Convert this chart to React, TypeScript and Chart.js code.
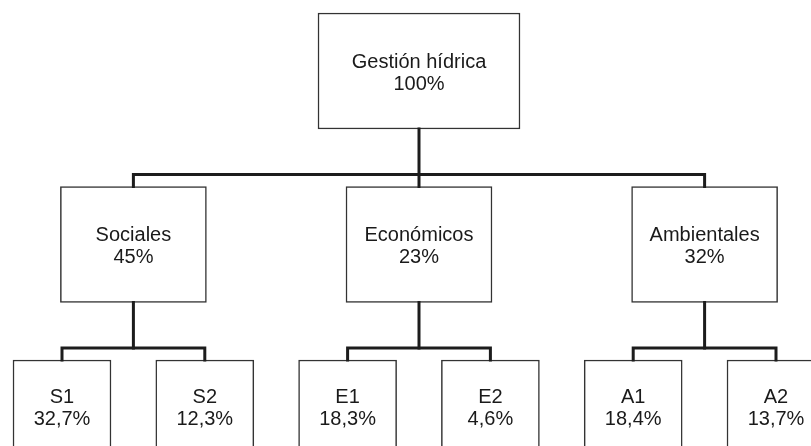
import { useEffect, useRef } from 'react';
import { Chart, registerables } from 'chart.js';

Chart.register(...registerables);

// ---- data ----
const nodeLabels = ['Gestión hídrica', 'Sociales', 'Económicos', 'Ambientales', 'S1', 'S2', 'E1', 'E2', 'A1', 'A2'];
const nodeValues = [100, 45, 23, 32, 32.7, 12.3, 18.3, 4.6, 18.4, 13.7];
const nodeParents = [-1, 0, 0, 0, 1, 1, 2, 2, 3, 3];

// ---- layout / style constants (pixels) ----
const W = 811;
const H = 446;
const LEVEL_TOP_PX = 13;
const LEVEL_STEP_PX = 173.5;
const LEAF_FIRST_PX = 62;
const LEAF_LAST_PX = 776;
const BOX_W = [202, 146, 98];
const BOX_H_PX = [116, 116, 93];
const GAP_PX = 12;
const LINE_COLOR = '#1c1c1c';
const BOX_BORDER = '#333333';
const FONT = '20px "Liberation Sans", Arial, sans-serif';

function fmt(v: number) {
  return String(v).replace('.', ',') + '%';
}

function layout() {
  const n = nodeLabels.length;
  const children: number[][] = Array.from({ length: n }, () => []);
  let root = 0;
  nodeParents.forEach((p, i) => {
    if (p >= 0) children[p].push(i);
    else root = i;
  });
  const depth = new Array(n).fill(0);
  const xs = new Array(n).fill(0);
  let leaf = 0;
  const visit = (i: number, d: number) => {
    depth[i] = d;
    if (children[i].length === 0) {
      xs[i] = leaf++;
    } else {
      children[i].forEach((c) => visit(c, d + 1));
      xs[i] = children[i].reduce((s, c) => s + xs[c], 0) / children[i].length;
    }
  };
  visit(root, 0);
  return { children, depth, xs, leafCount: leaf };
}

const textPlugin = {
  id: 'nodeText',
  afterDatasetsDraw(chart: any) {
    const ctx = chart.ctx;
    ctx.save();
    ctx.font = FONT;
    ctx.fillStyle = '#1a1a1a';
    ctx.textAlign = 'center';
    ctx.textBaseline = 'alphabetic';
    chart.data.datasets.forEach((ds: any, di: number) => {
      if (!ds.isBox) return;
      const meta = chart.getDatasetMeta(di);
      meta.data.forEach((el: any, j: number) => {
        const node = ds.data[j].node;
        const cy = (el.y + el.base) / 2;
        ctx.fillText(nodeLabels[node], el.x, cy - 3.5);
        ctx.fillText(fmt(nodeValues[node]), el.x, cy + 18.5);
      });
    });
    ctx.restore();
  },
};

export default function App() {
  const ref = useRef<HTMLCanvasElement | null>(null);

  useEffect(() => {
    if (!ref.current) return;
    const { children, depth, xs, leafCount } = layout();
    const unitX = (LEAF_LAST_PX - LEAF_FIRST_PX) / (leafCount - 1);
    const xMin = -LEAF_FIRST_PX / unitX;
    const xMax = (W - LEAF_FIRST_PX) / unitX;
    const yMin = -LEVEL_TOP_PX / LEVEL_STEP_PX;
    const yMax = (H - LEVEL_TOP_PX) / LEVEL_STEP_PX;
    const maxDepth = Math.max(...depth);

    const datasets: any[] = [];
    // connectors
    children.forEach((cs, p) => {
      if (cs.length === 0) return;
      const d = depth[p];
      const barY = d + 1 - GAP_PX / LEVEL_STEP_PX;
      const parentBottom = d + BOX_H_PX[d] / LEVEL_STEP_PX;
      const childTop = d + 1;
      const lineBase = {
        type: 'line',
        borderColor: LINE_COLOR,
        borderWidth: 3,
        pointRadius: 0,
        fill: false,
        tension: 0,
        borderCapStyle: 'square',
        borderJoinStyle: 'miter',
        order: 0,
      };
      datasets.push({ ...lineBase, data: [{ x: xs[p], y: parentBottom }, { x: xs[p], y: barY }] });
      const c0 = cs[0];
      const cN = cs[cs.length - 1];
      datasets.push({
        ...lineBase,
        data: [
          { x: xs[c0], y: childTop },
          { x: xs[c0], y: barY },
          { x: xs[cN], y: barY },
          { x: xs[cN], y: childTop },
        ],
      });
      cs.slice(1, -1).forEach((c) => {
        datasets.push({ ...lineBase, data: [{ x: xs[c], y: barY }, { x: xs[c], y: childTop }] });
      });
    });
    // boxes
    for (let d = 0; d <= maxDepth; d++) {
      const data = nodeLabels
        .map((_, i) => i)
        .filter((i) => depth[i] === d)
        .map((i) => ({ x: xs[i], y: [d, d + BOX_H_PX[d] / LEVEL_STEP_PX], node: i }));
      datasets.push({
        type: 'bar',
        isBox: true,
        data,
        barThickness: BOX_W[d],
        grouped: false,
        backgroundColor: '#ffffff',
        borderColor: BOX_BORDER,
        borderWidth: 1.5,
        borderSkipped: false,
        order: 1,
      });
    }

    const chart = new Chart(ref.current, {
      type: 'bar',
      data: { datasets },
      options: {
        animation: false,
        responsive: true,
        maintainAspectRatio: false,
        events: [],
        layout: { padding: 0 },
        plugins: { legend: { display: false }, tooltip: { enabled: false } },
        scales: {
          x: { type: 'linear', min: xMin, max: xMax, offset: false, display: false },
          y: { type: 'linear', min: yMin, max: yMax, reverse: true, display: false },
        },
      } as any,
      plugins: [textPlugin],
    } as any);
    return () => chart.destroy();
  }, []);

  return (
    <div style={{ position: 'absolute', left: 0, top: 0, width: W, height: H, background: '#fff' }}>
      <canvas ref={ref} />
    </div>
  );
}
